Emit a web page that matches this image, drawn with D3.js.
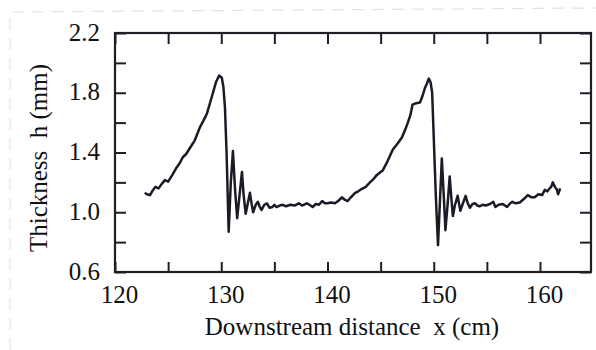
<!doctype html>
<html>
<head>
<meta charset="utf-8"/>
<title>Thickness vs downstream distance</title>
<script src="https://d3js.org/d3.v7.min.js"></script>
<style>
body{margin:0;background:#fff;}
text{font-family:"Liberation Serif","Times New Roman",serif;fill:#111;}
</style>
</head>
<body>
<script type="text/javascript">
// data
var xVals = [122.8,123.0,123.3,123.5,123.8,124.1,124.4,124.7,125.0,125.4,125.8,126.1,126.4,126.7,127.05,127.5,128.0,128.3,128.65,129.1,129.5,129.8,130.05,130.2,130.35,130.5,130.7,130.9,131.1,131.3,131.5,131.7,131.95,132.1,132.3,132.5,132.7,132.85,133.0,133.25,133.45,133.6,133.8,134.05,134.3,134.55,134.8,135.0,135.2,135.5,135.8,136.1,136.5,136.9,137.3,137.6,138.06,138.3,138.6,138.9,139.2,139.5,139.75,140.0,140.35,140.7,141.0,141.35,141.6,141.9,142.2,142.6,142.9,143.2,143.6,143.99,144.3,144.65,145.0,145.2,145.5,145.7,146.15,146.6,147.0,147.3,147.56,147.8,148.0,148.35,148.7,148.95,149.16,149.35,149.54,149.7,149.85,150.0,150.2,150.4,150.6,150.76,150.95,151.1,151.3,151.5,151.65,151.8,152.0,152.25,152.5,152.75,153.0,153.2,153.4,153.65,153.9,154.1,154.3,154.6,154.9,155.3,155.6,155.8,156.1,156.5,156.9,157.2,157.4,157.7,158.1,158.5,158.85,159.2,159.5,159.85,160.2,160.45,160.7,160.9,161.05,161.2,161.4,161.6,161.7,161.9];
var hVals = [1.13,1.12,1.115,1.14,1.17,1.16,1.19,1.215,1.205,1.25,1.30,1.33,1.37,1.39,1.43,1.48,1.57,1.61,1.66,1.77,1.87,1.915,1.90,1.84,1.70,1.40,0.87,1.20,1.41,1.15,0.96,1.10,1.27,1.12,0.99,1.06,1.13,1.06,1.00,1.05,1.07,1.04,1.015,1.05,1.06,1.03,1.035,1.05,1.035,1.045,1.05,1.04,1.05,1.045,1.06,1.045,1.06,1.05,1.035,1.055,1.05,1.075,1.06,1.06,1.065,1.06,1.075,1.10,1.085,1.075,1.10,1.13,1.14,1.155,1.17,1.20,1.22,1.25,1.27,1.28,1.32,1.35,1.42,1.46,1.50,1.55,1.60,1.65,1.72,1.73,1.735,1.78,1.83,1.86,1.895,1.87,1.80,1.50,1.10,0.78,1.10,1.36,1.10,0.88,1.05,1.24,1.10,0.975,1.05,1.11,1.01,1.06,1.11,1.06,1.03,1.055,1.06,1.045,1.04,1.05,1.045,1.055,1.07,1.035,1.05,1.055,1.035,1.06,1.07,1.06,1.065,1.09,1.115,1.10,1.10,1.12,1.115,1.15,1.14,1.16,1.17,1.20,1.17,1.15,1.12,1.16];

var xTicks = [120,125,130,135,140,145,150,155,160];
var xLabels = [120,130,140,150,160];
var yTicks = [0.6,0.8,1.0,1.2,1.4,1.6,1.8,2.0,2.2];
var yLabels = [0.6,1.0,1.4,1.8,2.2];

var W = 596, H = 350;
var L = 115, R = 591, T = 33, B = 272;

var svg = d3.select("body").append("svg")
    .attr("width", W)
    .attr("height", H);

// faint scan border
svg.append("path")
    .attr("d", "M10,350 L10,12 L596,8")
    .attr("fill", "none")
    .attr("stroke", "#e2e2e2")
    .attr("stroke-width", 1.2)
    .attr("stroke-dasharray", "12,8");

var x = d3.scaleLinear().domain([120, 164.8]).range([L, R]);
var y = d3.scaleLinear().domain([0.6, 2.2]).range([B, T]);

function fmtX(d){ return xLabels.indexOf(d) >= 0 ? d3.format("d")(d) : ""; }
function fmtY(d){ return yLabels.some(function(v){return Math.abs(v-d)<1e-6;}) ? d3.format(".1f")(d) : ""; }

var gB = svg.append("g").attr("transform", "translate(0," + B + ")")
    .call(d3.axisBottom(x).tickValues(xTicks).tickSize(-10).tickSizeOuter(0).tickPadding(13).tickFormat(fmtX));
var gT = svg.append("g").attr("transform", "translate(0," + T + ")")
    .call(d3.axisTop(x).tickValues(xTicks).tickSize(-11).tickSizeOuter(0).tickFormat(""));
var gL = svg.append("g").attr("transform", "translate(" + L + ",0)")
    .call(d3.axisLeft(y).tickValues(yTicks).tickSize(-11).tickSizeOuter(0).tickPadding(15).tickFormat(fmtY));
var gR = svg.append("g").attr("transform", "translate(" + R + ",0)")
    .call(d3.axisRight(y).tickValues(yTicks).tickSize(-11).tickSizeOuter(0).tickFormat(""));

[gB, gT, gL, gR].forEach(function(g){
    g.select(".domain").remove();
    g.selectAll(".tick line").attr("stroke", "#1e1e26").attr("stroke-width", 2);
    g.selectAll("text").attr("font-size", 25).attr("fill", "#111")
        .attr("font-family", "'Liberation Serif', 'Times New Roman', serif");
});
gB.selectAll("text").attr("dx", 4);
gL.selectAll("text").attr("dy", "0.28em");

svg.append("rect")
    .attr("x", L).attr("y", T)
    .attr("width", R - L).attr("height", B - T)
    .attr("fill", "none")
    .attr("stroke", "#1e1e26")
    .attr("stroke-width", 2.2);

var line = d3.line()
    .x(function(d,i){ return x(xVals[i]); })
    .y(function(d,i){ return y(hVals[i]); });

svg.append("path")
    .datum(hVals)
    .attr("d", line)
    .attr("fill", "none")
    .attr("stroke", "#1b1b28")
    .attr("stroke-width", 2.5)
    .attr("stroke-linejoin", "round");

svg.append("text")
    .attr("x", 352).attr("y", 335)
    .attr("text-anchor", "middle")
    .attr("font-size", 25)
    .style("white-space", "pre")
    .text("Downstream distance  x (cm)");

svg.append("text")
    .attr("transform", "translate(47,158) rotate(-90)")
    .attr("text-anchor", "middle")
    .attr("font-size", 25)
    .style("white-space", "pre")
    .text("Thickness  h (mm)");
</script>
</body>
</html>
